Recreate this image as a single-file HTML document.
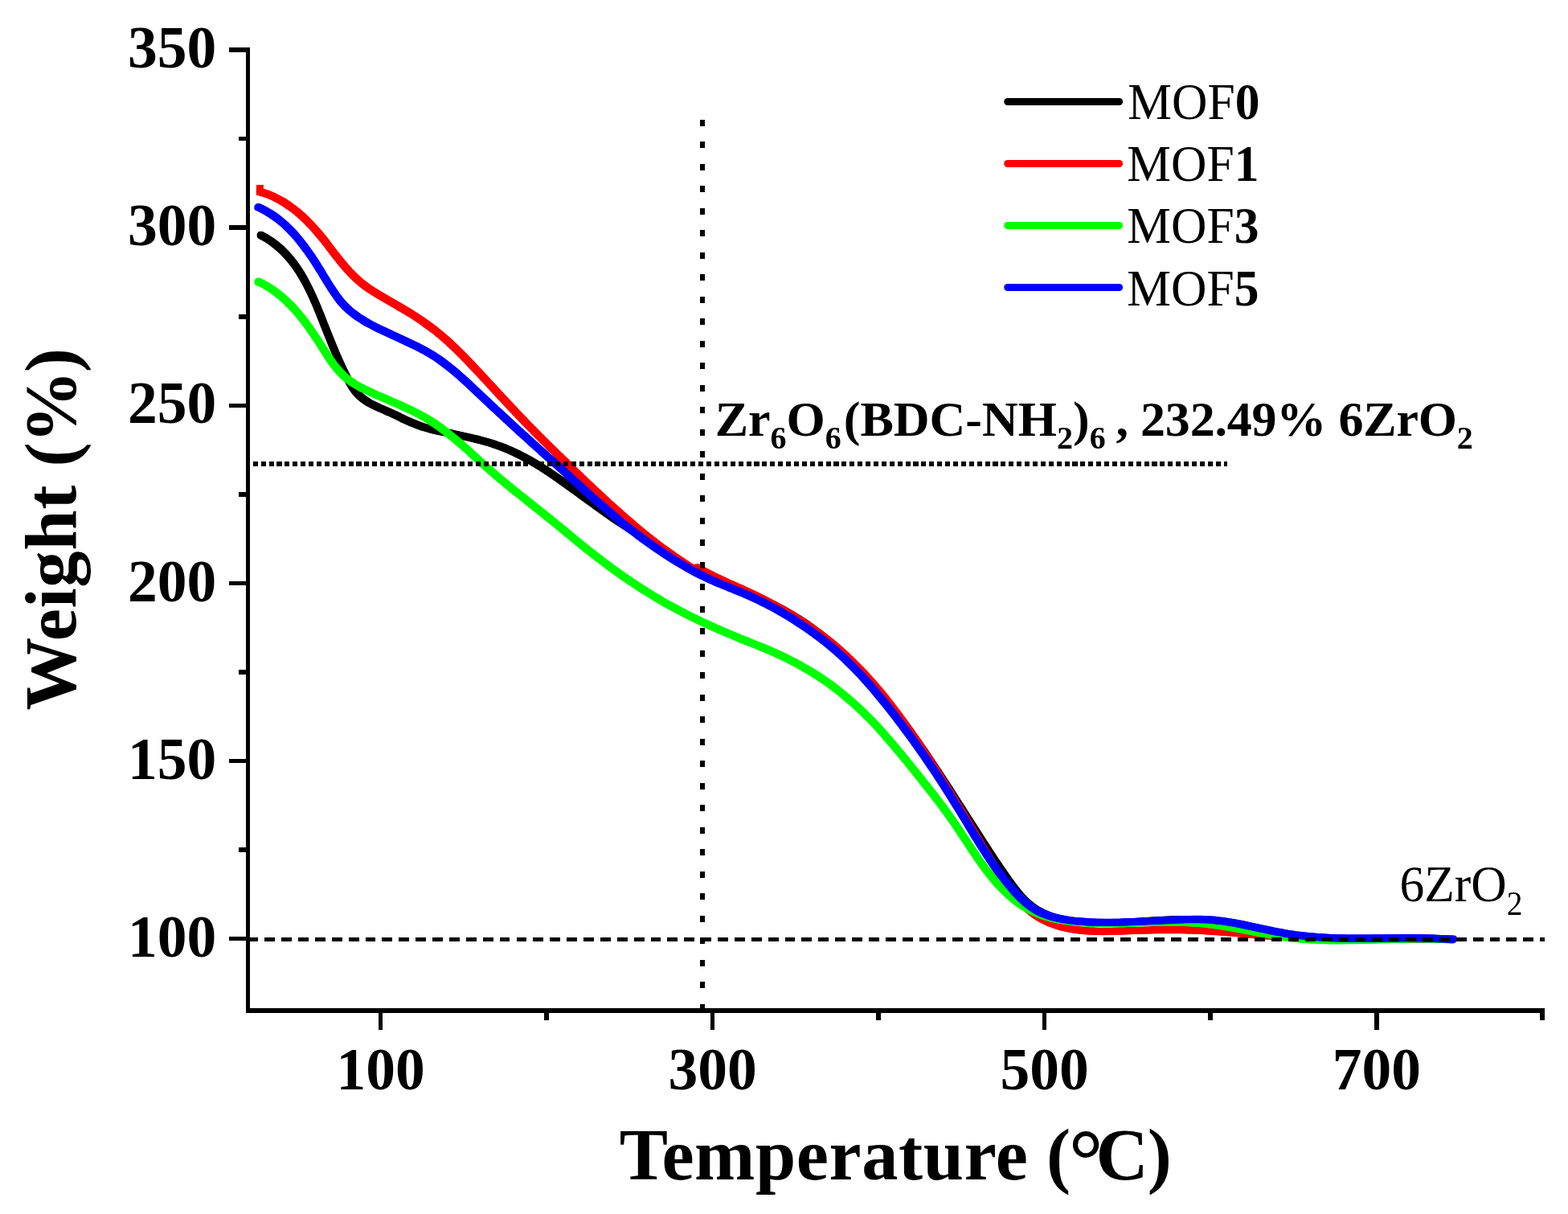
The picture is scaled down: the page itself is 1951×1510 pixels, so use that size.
<!DOCTYPE html>
<html lang="en"><head><meta charset="utf-8"><title>TGA curves</title>
<style>html,body{margin:0;padding:0;background:#fff}body{width:1951px;height:1510px;overflow:hidden}svg{display:block}text{font-family:"Liberation Serif",serif;fill:#000}.b{font-weight:bold}</style></head><body>
<svg width="1951" height="1510" viewBox="0 0 1951 1510">
<rect width="1951" height="1510" fill="#fff"/>
<defs>
<path id="ck" d="M324.3 292.3C325.4 292.9 328.7 294.7 330.7 295.9C332.8 297.2 334.8 298.4 336.8 299.8C338.7 301.1 340.6 302.5 342.5 304.0C344.3 305.4 346.1 306.9 347.8 308.4C349.6 310.0 351.2 311.6 352.9 313.2C354.5 314.8 356.1 316.5 357.6 318.2C359.1 319.9 360.6 321.7 362.1 323.4C363.5 325.2 364.9 327.0 366.3 328.8C367.6 330.7 369.0 332.5 370.2 334.4C371.5 336.3 372.8 338.2 374.0 340.2C375.2 342.2 376.4 344.2 377.5 346.3C378.7 348.3 379.8 350.4 380.9 352.5C382.0 354.5 383.1 356.7 384.1 358.8C385.2 360.9 386.2 363.0 387.2 365.2C388.2 367.3 389.2 369.5 390.2 371.7C391.1 373.9 392.1 376.0 393.0 378.2C394.0 380.4 394.9 382.7 395.8 384.9C396.7 387.1 397.6 389.4 398.5 391.6C399.4 393.9 400.3 396.1 401.2 398.3C402.1 400.6 402.9 402.8 403.8 405.0C404.7 407.2 405.6 409.5 406.5 411.7C407.3 413.9 408.2 416.1 409.1 418.3C410.0 420.5 410.9 422.7 411.8 424.9C412.7 427.2 413.6 429.4 414.5 431.6C415.4 433.7 416.3 435.9 417.2 438.1C418.2 440.3 419.1 442.5 420.1 444.7C421.0 446.9 422.0 449.1 423.0 451.2C424.0 453.4 425.0 455.6 426.0 457.8C427.0 459.9 428.0 462.1 429.1 464.3C430.2 466.4 431.2 468.6 432.4 470.8C433.5 472.9 434.6 475.0 435.8 477.1C437.0 479.2 438.3 481.3 439.6 483.2C440.9 485.2 442.3 487.0 443.8 488.7C445.3 490.4 446.9 492.0 448.6 493.5C450.3 495.0 452.1 496.3 454.0 497.6C455.9 498.9 457.8 500.2 459.8 501.3C461.8 502.4 463.9 503.4 466.0 504.5C468.1 505.5 470.2 506.4 472.3 507.4C474.5 508.4 476.6 509.3 478.8 510.3C480.9 511.2 483.1 512.1 485.3 513.1C487.4 514.0 489.6 515.0 491.7 516.0C493.8 517.0 495.9 518.0 497.9 519.1C500.0 520.1 502.0 521.2 504.1 522.1C506.2 523.1 508.2 524.1 510.3 524.9C512.4 525.8 514.5 526.6 516.6 527.4C518.7 528.2 520.8 529.0 523.0 529.8C525.1 530.6 527.3 531.3 529.5 532.0C531.7 532.7 533.9 533.3 536.1 533.9C538.3 534.5 540.6 535.0 542.9 535.6C545.1 536.1 547.4 536.6 549.8 537.0C552.1 537.5 554.4 537.9 556.7 538.3C559.1 538.8 561.4 539.1 563.8 539.6C566.1 540.0 568.5 540.6 570.8 541.2C573.2 541.7 575.6 542.3 577.9 542.8C580.3 543.4 582.6 543.9 585.0 544.4C587.3 544.9 589.6 545.4 592.0 546.0C594.3 546.6 596.6 547.2 598.9 547.8C601.2 548.4 603.4 549.0 605.7 549.7C607.9 550.3 610.2 551.0 612.4 551.7C614.6 552.5 616.8 553.2 619.0 554.0C621.2 554.8 623.3 555.6 625.5 556.4C627.7 557.2 629.8 558.1 631.9 559.0C634.0 559.8 636.1 560.7 638.2 561.7C640.3 562.6 642.4 563.6 644.5 564.7C646.5 565.7 648.6 566.7 650.6 567.8C652.7 568.9 654.7 570.0 656.7 571.1C658.8 572.2 660.8 573.4 662.8 574.5C664.8 575.7 666.8 576.9 668.8 578.1C670.8 579.3 672.7 580.6 674.7 581.8C676.7 583.0 678.6 584.3 680.6 585.6C682.5 586.9 684.5 588.2 686.4 589.5C688.4 590.8 690.3 592.1 692.2 593.5C694.2 594.8 696.1 596.2 698.0 597.5C699.9 598.9 701.9 600.3 703.8 601.6C705.7 603.0 707.6 604.4 709.5 605.8C711.4 607.1 713.3 608.5 715.3 609.9C717.2 611.3 719.1 612.7 721.0 614.1C722.9 615.5 724.8 616.8 726.7 618.2C728.6 619.6 730.5 621.0 732.5 622.4C734.4 623.7 736.3 625.1 738.2 626.4C740.1 627.8 742.0 629.3 744.0 630.7C745.9 632.1 747.8 633.5 749.8 634.9C751.7 636.4 753.6 637.8 755.6 639.1C757.5 640.5 759.5 641.9 761.5 643.2C763.4 644.6 765.4 645.9 767.4 647.2C769.3 648.6 771.3 649.8 773.3 651.1C775.3 652.4 777.3 653.7 779.3 655.0C781.3 656.2 783.3 657.5 785.3 658.7C787.3 660.0 789.3 661.3 791.3 662.5C793.3 663.8 795.3 665.1 797.3 666.4C799.3 667.6 801.2 668.9 803.2 670.1C805.2 671.4 807.2 672.7 809.1 674.0C811.1 675.2 813.1 676.6 815.0 677.9C816.9 679.3 818.9 680.6 820.8 682.0C822.7 683.4 824.6 684.8 826.6 686.2C828.5 687.6 830.4 689.1 832.3 690.4C834.2 691.8 836.2 693.1 838.1 694.4C840.1 695.8 842.0 697.1 844.0 698.4C845.9 699.6 847.9 700.9 849.9 702.1C851.9 703.4 853.9 704.5 856.0 705.8C858.0 707.0 860.0 708.2 862.1 709.4C864.1 710.6 866.2 711.7 868.3 712.7C870.4 713.8 872.5 714.8 874.7 715.8C876.8 716.7 878.9 717.6 881.1 718.5C883.3 719.4 885.4 720.3 887.6 721.1C889.8 722.0 892.0 722.8 894.2 723.7C896.4 724.5 898.6 725.3 900.8 726.1C903.0 727.0 905.2 727.8 907.4 728.7C909.6 729.5 911.8 730.4 914.0 731.2C916.2 732.1 918.4 732.9 920.6 733.8C922.8 734.7 925.0 735.6 927.2 736.6C929.4 737.5 931.6 738.5 933.7 739.5C935.9 740.4 938.1 741.4 940.2 742.3C942.4 743.2 944.6 744.1 946.7 745.0C948.8 746.0 951.0 746.9 953.1 747.9C955.2 748.8 957.4 749.8 959.5 750.8C961.6 751.9 963.7 752.9 965.7 754.0C967.8 755.1 969.9 756.2 972.0 757.3C974.0 758.4 976.1 759.5 978.1 760.7C980.1 761.8 982.1 763.0 984.1 764.2C986.2 765.4 988.1 766.6 990.1 767.8C992.1 769.0 994.0 770.3 996.0 771.5C997.9 772.8 999.9 774.0 1001.8 775.3C1003.7 776.7 1005.6 778.0 1007.5 779.4C1009.4 780.7 1011.3 782.1 1013.1 783.5C1015.0 784.9 1016.9 786.3 1018.7 787.7C1020.5 789.2 1022.4 790.6 1024.2 792.1C1026.0 793.5 1027.8 795.0 1029.6 796.5C1031.4 797.9 1033.1 799.4 1034.9 800.9C1036.7 802.5 1038.4 804.0 1040.2 805.5C1041.9 807.1 1043.6 808.6 1045.3 810.2C1047.1 811.7 1048.8 813.3 1050.5 814.9C1052.2 816.5 1053.8 818.1 1055.5 819.7C1057.2 821.3 1058.8 822.9 1060.5 824.6C1062.1 826.2 1063.8 827.8 1065.4 829.5C1067.0 831.1 1068.7 832.8 1070.3 834.5C1071.9 836.2 1073.5 837.9 1075.1 839.6C1076.7 841.3 1078.2 843.0 1079.8 844.7C1081.4 846.4 1082.9 848.2 1084.5 849.9C1086.0 851.6 1087.6 853.4 1089.1 855.2C1090.6 856.9 1092.2 858.7 1093.7 860.5C1095.2 862.2 1096.7 864.0 1098.2 865.8C1099.7 867.6 1101.2 869.4 1102.7 871.2C1104.2 873.0 1105.6 874.9 1107.1 876.7C1108.6 878.5 1110.0 880.4 1111.5 882.2C1112.9 884.0 1114.4 885.9 1115.8 887.8C1117.2 889.6 1118.7 891.5 1120.1 893.4C1121.5 895.2 1122.9 897.1 1124.3 899.0C1125.7 900.9 1127.1 902.8 1128.5 904.7C1129.9 906.5 1131.3 908.5 1132.7 910.4C1134.1 912.3 1135.5 914.2 1136.8 916.1C1138.2 918.0 1139.6 919.9 1140.9 921.9C1142.3 923.8 1143.6 925.7 1145.0 927.7C1146.3 929.6 1147.7 931.5 1149.0 933.5C1150.4 935.4 1151.7 937.4 1153.0 939.3C1154.4 941.3 1155.7 943.2 1157.0 945.2C1158.3 947.1 1159.6 949.1 1160.9 951.1C1162.2 953.0 1163.6 955.0 1164.9 957.0C1166.2 958.9 1167.5 960.9 1168.8 962.9C1170.0 964.8 1171.3 966.8 1172.6 968.8C1173.9 970.8 1175.2 972.7 1176.5 974.7C1177.8 976.7 1179.0 978.7 1180.3 980.6C1181.6 982.6 1182.9 984.6 1184.1 986.6C1185.4 988.5 1186.7 990.5 1187.9 992.5C1189.2 994.5 1190.5 996.4 1191.7 998.4C1193.0 1000.4 1194.3 1002.4 1195.5 1004.3C1196.8 1006.3 1198.0 1008.3 1199.3 1010.3C1200.5 1012.2 1201.8 1014.2 1203.0 1016.2C1204.3 1018.1 1205.6 1020.1 1206.8 1022.1C1208.1 1024.0 1209.3 1026.0 1210.6 1027.9C1211.8 1029.9 1213.1 1031.9 1214.3 1033.8C1215.6 1035.8 1216.8 1037.7 1218.1 1039.7C1219.3 1041.6 1220.5 1043.6 1221.8 1045.5C1223.0 1047.4 1224.3 1049.4 1225.6 1051.3C1226.8 1053.3 1228.1 1055.2 1229.3 1057.1C1230.6 1059.1 1231.8 1061.0 1233.1 1062.9C1234.4 1064.8 1235.6 1066.8 1236.9 1068.7C1238.2 1070.6 1239.5 1072.5 1240.8 1074.5C1242.1 1076.4 1243.4 1078.3 1244.7 1080.2C1246.0 1082.1 1247.3 1084.1 1248.7 1086.0C1250.0 1087.9 1251.4 1089.9 1252.7 1091.8C1254.1 1093.8 1255.5 1095.7 1256.9 1097.6C1258.2 1099.6 1259.7 1101.5 1261.1 1103.4C1262.5 1105.3 1264.0 1107.2 1265.5 1109.1C1267.0 1110.9 1268.5 1112.7 1270.1 1114.5C1271.7 1116.3 1273.3 1118.0 1274.9 1119.7C1276.6 1121.3 1278.3 1122.9 1280.1 1124.4C1281.9 1125.9 1283.7 1127.4 1285.6 1128.7C1287.5 1130.1 1289.5 1131.3 1291.5 1132.5C1293.5 1133.6 1295.6 1134.7 1297.7 1135.7C1299.8 1136.7 1302.0 1137.7 1304.2 1138.5C1306.3 1139.4 1308.6 1140.1 1310.8 1140.9C1313.0 1141.6 1315.3 1142.2 1317.6 1142.8C1319.9 1143.4 1322.2 1143.9 1324.5 1144.3C1326.8 1144.8 1329.1 1145.2 1331.4 1145.5C1333.7 1145.9 1336.0 1146.2 1338.4 1146.4C1340.7 1146.7 1343.0 1146.9 1345.4 1147.1C1347.7 1147.3 1350.1 1147.5 1352.4 1147.6C1354.7 1147.7 1357.1 1147.8 1359.4 1147.9C1361.8 1148.0 1364.1 1148.0 1366.5 1148.1C1368.8 1148.1 1371.2 1148.1 1373.5 1148.1C1375.9 1148.1 1378.2 1148.1 1380.6 1148.0C1382.9 1148.0 1385.3 1147.9 1387.6 1147.8C1390.0 1147.7 1392.4 1147.6 1394.7 1147.5C1397.1 1147.4 1399.4 1147.3 1401.8 1147.2C1404.1 1147.1 1406.5 1146.9 1408.9 1146.8C1411.2 1146.6 1413.6 1146.5 1415.9 1146.3C1418.3 1146.2 1420.7 1146.0 1423.0 1145.9C1425.4 1145.7 1427.7 1145.6 1430.1 1145.4C1432.4 1145.3 1434.8 1145.1 1437.2 1145.0C1439.5 1144.9 1441.9 1144.7 1444.2 1144.6C1446.6 1144.5 1448.9 1144.3 1451.3 1144.2C1453.6 1144.1 1456.0 1144.0 1458.3 1143.9C1460.7 1143.9 1463.0 1143.8 1465.4 1143.7C1467.7 1143.7 1470.1 1143.6 1472.4 1143.6C1474.8 1143.6 1477.1 1143.6 1479.4 1143.6C1481.8 1143.7 1484.1 1143.7 1486.4 1143.8C1488.8 1143.8 1491.1 1143.9 1493.4 1144.1C1495.8 1144.2 1498.1 1144.3 1500.4 1144.5C1502.7 1144.7 1505.1 1144.9 1507.4 1145.2C1509.7 1145.4 1512.0 1145.7 1514.3 1146.0C1516.6 1146.3 1518.9 1146.6 1521.2 1146.9C1523.6 1147.3 1525.9 1147.7 1528.2 1148.0C1530.5 1148.4 1532.8 1148.8 1535.1 1149.3C1537.4 1149.7 1539.7 1150.1 1542.0 1150.6C1544.3 1151.0 1546.6 1151.5 1548.9 1151.9C1551.2 1152.4 1553.5 1152.8 1555.8 1153.3C1558.1 1153.8 1560.4 1154.3 1562.7 1154.7C1565.0 1155.2 1567.3 1155.7 1569.6 1156.2C1571.9 1156.6 1574.2 1157.1 1576.5 1157.6C1578.8 1158.0 1581.1 1158.5 1583.4 1158.9C1585.7 1159.4 1588.0 1159.8 1590.3 1160.2C1592.6 1160.6 1594.9 1161.0 1597.2 1161.4C1599.5 1161.8 1601.8 1162.1 1604.1 1162.5C1606.5 1162.8 1608.8 1163.1 1611.1 1163.4C1613.4 1163.7 1615.7 1164.0 1618.0 1164.3C1620.4 1164.5 1622.7 1164.8 1625.0 1165.0C1627.4 1165.2 1629.7 1165.4 1632.0 1165.6C1634.3 1165.8 1636.7 1166.0 1639.0 1166.2C1641.3 1166.3 1643.7 1166.5 1646.0 1166.6C1648.3 1166.7 1650.7 1166.9 1653.0 1167.0C1655.4 1167.1 1657.7 1167.2 1660.0 1167.2C1662.4 1167.3 1664.7 1167.4 1667.1 1167.4C1669.4 1167.5 1671.8 1167.6 1674.1 1167.6C1676.5 1167.6 1678.8 1167.7 1681.2 1167.7C1683.5 1167.7 1685.9 1167.7 1688.2 1167.7C1690.6 1167.8 1692.9 1167.8 1695.3 1167.8C1697.6 1167.8 1700.0 1167.7 1702.3 1167.7C1704.7 1167.7 1707.0 1167.7 1709.4 1167.7C1711.7 1167.7 1714.1 1167.6 1716.4 1167.6C1718.8 1167.6 1721.1 1167.6 1723.5 1167.5C1725.8 1167.5 1728.2 1167.5 1730.5 1167.5C1732.9 1167.4 1735.2 1167.4 1737.6 1167.4C1740.0 1167.4 1742.3 1167.3 1744.7 1167.3C1747.0 1167.3 1749.4 1167.3 1751.7 1167.3C1754.1 1167.3 1756.4 1167.3 1758.8 1167.3C1761.1 1167.3 1763.5 1167.3 1765.8 1167.3C1768.2 1167.3 1770.5 1167.3 1772.9 1167.3C1775.2 1167.4 1777.5 1167.4 1779.9 1167.4C1782.2 1167.5 1784.6 1167.5 1786.9 1167.6C1789.3 1167.6 1791.6 1167.7 1793.9 1167.8C1796.3 1167.9 1798.6 1168.0 1801.0 1168.1C1803.3 1168.2 1806.8 1168.4 1808.0 1168.4"/>
<path id="cr" d="M323.4 238.6C324.5 239.0 328.1 239.9 330.3 240.7C332.6 241.5 334.8 242.3 337.0 243.2C339.2 244.2 341.3 245.1 343.4 246.2C345.5 247.2 347.6 248.3 349.6 249.5C351.6 250.6 353.6 251.8 355.5 253.1C357.4 254.3 359.4 255.7 361.2 257.0C363.1 258.4 364.9 259.7 366.7 261.1C368.6 262.5 370.3 264.0 372.1 265.5C373.8 267.0 375.5 268.5 377.2 270.1C378.9 271.7 380.6 273.3 382.2 274.9C383.9 276.5 385.5 278.2 387.1 279.9C388.7 281.6 390.2 283.4 391.8 285.1C393.4 286.9 394.9 288.6 396.4 290.4C397.9 292.2 399.4 294.0 400.9 295.8C402.4 297.6 403.9 299.5 405.3 301.3C406.8 303.2 408.2 305.2 409.7 307.1C411.1 309.0 412.6 310.9 414.1 312.8C415.5 314.7 417.0 316.6 418.4 318.4C419.9 320.3 421.4 322.2 422.9 324.0C424.4 325.9 425.9 327.7 427.4 329.5C428.9 331.3 430.5 333.1 432.0 334.9C433.6 336.6 435.2 338.4 436.8 340.1C438.5 341.7 440.1 343.4 441.8 345.0C443.6 346.6 445.3 348.2 447.1 349.7C448.9 351.3 450.7 352.8 452.6 354.2C454.4 355.6 456.3 357.0 458.2 358.4C460.2 359.7 462.1 360.9 464.1 362.2C466.0 363.4 468.0 364.7 470.0 365.9C472.0 367.1 474.0 368.3 476.0 369.4C478.0 370.6 480.0 371.7 482.0 372.9C484.0 374.0 486.1 375.2 488.1 376.3C490.1 377.5 492.1 378.7 494.1 379.8C496.0 381.0 498.0 382.2 500.0 383.3C502.0 384.5 504.0 385.7 506.0 386.9C508.0 388.1 509.9 389.3 511.9 390.5C513.9 391.7 515.8 392.9 517.8 394.2C519.7 395.4 521.6 396.7 523.6 398.0C525.5 399.3 527.4 400.7 529.3 402.1C531.2 403.4 533.1 404.8 535.0 406.2C536.9 407.6 538.8 409.0 540.6 410.4C542.5 411.9 544.3 413.4 546.1 414.9C548.0 416.4 549.8 417.9 551.6 419.5C553.4 421.0 555.1 422.6 556.9 424.1C558.6 425.7 560.4 427.3 562.1 428.9C563.8 430.5 565.5 432.2 567.2 433.8C568.9 435.4 570.6 437.1 572.3 438.7C574.0 440.4 575.6 442.1 577.3 443.8C578.9 445.4 580.6 447.2 582.2 448.9C583.8 450.6 585.5 452.3 587.1 454.0C588.7 455.7 590.3 457.4 591.9 459.1C593.5 460.8 595.1 462.5 596.7 464.2C598.3 465.9 599.9 467.6 601.5 469.4C603.1 471.1 604.6 472.8 606.2 474.5C607.8 476.3 609.4 478.0 611.0 479.7C612.6 481.5 614.2 483.2 615.8 484.9C617.4 486.6 619.0 488.3 620.6 490.1C622.2 491.8 623.8 493.5 625.4 495.2C627.0 496.9 628.6 498.6 630.2 500.3C631.8 502.0 633.4 503.8 635.0 505.5C636.7 507.3 638.3 509.0 639.9 510.7C641.5 512.5 643.1 514.2 644.8 515.9C646.4 517.6 648.0 519.3 649.7 521.0C651.3 522.7 652.9 524.4 654.6 526.1C656.2 527.8 657.9 529.5 659.5 531.1C661.2 532.8 662.8 534.5 664.5 536.2C666.1 537.8 667.8 539.5 669.4 541.2C671.1 542.8 672.8 544.5 674.4 546.2C676.1 547.8 677.7 549.5 679.4 551.1C681.1 552.8 682.8 554.4 684.4 556.1C686.1 557.7 687.8 559.4 689.5 561.0C691.2 562.6 692.8 564.3 694.5 565.9C696.2 567.5 697.9 569.2 699.6 570.8C701.3 572.4 703.0 574.1 704.7 575.8C706.4 577.4 708.1 579.1 709.8 580.8C711.5 582.5 713.2 584.2 714.9 585.9C716.6 587.5 718.3 589.2 720.1 590.8C721.8 592.5 723.5 594.1 725.2 595.7C726.9 597.4 728.7 599.0 730.4 600.7C732.1 602.3 733.8 603.9 735.6 605.6C737.3 607.2 739.1 608.8 740.8 610.5C742.5 612.1 744.3 613.7 746.0 615.3C747.8 616.9 749.5 618.5 751.3 620.2C753.0 621.8 754.8 623.4 756.5 625.0C758.3 626.6 760.1 628.2 761.8 629.8C763.6 631.4 765.4 633.0 767.1 634.6C768.9 636.2 770.7 637.8 772.5 639.3C774.2 640.9 776.0 642.4 777.8 644.0C779.6 645.5 781.4 647.1 783.2 648.6C785.0 650.2 786.8 651.7 788.6 653.3C790.4 654.8 792.2 656.3 794.0 657.9C795.8 659.4 797.6 660.9 799.4 662.4C801.2 663.9 803.1 665.4 804.9 666.8C806.7 668.3 808.6 669.7 810.4 671.2C812.2 672.6 814.1 674.0 815.9 675.4C817.8 676.8 819.7 678.2 821.5 679.6C823.4 681.0 825.3 682.4 827.2 683.7C829.1 685.1 831.0 686.5 832.9 687.8C834.8 689.2 836.7 690.5 838.7 691.9C840.6 693.2 842.5 694.5 844.5 695.8C846.4 697.1 848.4 698.5 850.4 699.8C852.4 701.2 854.3 702.5 856.3 703.8C858.3 705.1 860.6 706.5 862.4 707.6C864.2 708.6 866.2 709.8 867.0 710.2M867.0 705.9C867.2 706.1 867.2 706.1 868.5 706.7C869.8 707.4 872.6 708.8 874.7 709.9C876.8 711.0 878.9 712.1 881.0 713.2C883.1 714.3 885.2 715.3 887.3 716.4C889.4 717.4 891.5 718.4 893.7 719.4C895.8 720.5 897.9 721.5 900.1 722.4C902.2 723.4 904.4 724.4 906.5 725.4C908.6 726.4 910.8 727.3 912.9 728.3C915.1 729.2 917.2 730.2 919.4 731.1C921.5 732.1 923.7 733.1 925.9 734.0C928.0 735.0 930.2 736.0 932.3 737.0C934.5 738.0 936.6 739.0 938.7 740.0C940.9 741.0 943.0 742.1 945.2 743.2C947.3 744.2 949.5 745.3 951.6 746.4C953.7 747.6 955.9 748.8 958.0 749.9C960.1 751.0 962.2 752.1 964.3 753.2C966.4 754.4 968.5 755.5 970.6 756.6C972.7 757.8 974.8 758.9 976.8 760.1C978.9 761.3 981.0 762.5 983.0 763.7C985.0 764.9 987.0 766.2 989.0 767.4C991.0 768.7 993.0 769.9 995.0 771.2C997.0 772.5 998.9 773.8 1000.9 775.1C1002.8 776.4 1004.7 777.6 1006.6 778.9C1008.6 780.2 1010.4 781.5 1012.3 782.9C1014.2 784.2 1016.1 785.5 1017.9 786.9C1019.8 788.2 1021.6 789.6 1023.5 791.0C1025.3 792.4 1027.1 793.8 1028.9 795.2C1030.7 796.6 1032.5 798.0 1034.3 799.4C1036.0 800.9 1037.8 802.3 1039.5 803.8C1041.3 805.3 1043.0 806.8 1044.8 808.4C1046.5 809.9 1048.2 811.5 1049.9 813.0C1051.6 814.6 1053.3 816.1 1054.9 817.7C1056.6 819.3 1058.3 820.9 1059.9 822.5C1061.6 824.1 1063.2 825.7 1064.9 827.4C1066.5 829.0 1068.1 830.6 1069.7 832.3C1071.3 833.9 1072.9 835.6 1074.5 837.3C1076.1 838.9 1077.7 840.7 1079.2 842.4C1080.8 844.1 1082.3 845.8 1083.9 847.6C1085.4 849.3 1087.0 851.1 1088.5 852.8C1090.0 854.6 1091.5 856.4 1093.0 858.2C1094.5 859.9 1096.0 861.7 1097.5 863.5C1099.0 865.3 1100.5 867.1 1102.0 868.9C1103.4 870.8 1104.9 872.6 1106.3 874.5C1107.8 876.3 1109.2 878.2 1110.7 880.1C1112.1 882.0 1113.5 883.8 1114.9 885.7C1116.4 887.6 1117.8 889.5 1119.2 891.4C1120.6 893.3 1122.0 895.2 1123.4 897.2C1124.8 899.1 1126.1 901.0 1127.5 902.9C1128.9 904.8 1130.3 906.7 1131.6 908.7C1133.0 910.6 1134.3 912.5 1135.7 914.5C1137.0 916.4 1138.4 918.3 1139.7 920.3C1141.0 922.2 1142.4 924.2 1143.7 926.1C1145.0 928.1 1146.3 930.0 1147.7 932.0C1149.0 934.0 1150.3 936.0 1151.6 937.9C1152.9 939.9 1154.2 941.9 1155.5 943.9C1156.8 945.8 1158.0 947.8 1159.3 949.8C1160.6 951.8 1161.9 953.8 1163.2 955.8C1164.4 957.8 1165.7 959.8 1167.0 961.8C1168.2 963.8 1169.5 965.8 1170.8 967.8C1172.0 969.9 1173.3 971.9 1174.5 973.9C1175.8 975.9 1177.0 977.9 1178.3 979.9C1179.5 982.0 1180.8 984.0 1182.0 986.0C1183.2 988.0 1184.5 990.0 1185.7 992.0C1186.9 994.0 1188.2 996.0 1189.4 998.1C1190.6 1000.1 1191.9 1002.1 1193.1 1004.1C1194.3 1006.1 1195.5 1008.2 1196.8 1010.2C1198.0 1012.2 1199.2 1014.2 1200.4 1016.2C1201.6 1018.3 1202.9 1020.3 1204.1 1022.3C1205.3 1024.3 1206.5 1026.4 1207.7 1028.4C1208.9 1030.4 1210.2 1032.4 1211.4 1034.4C1212.6 1036.4 1213.8 1038.5 1215.0 1040.5C1216.2 1042.5 1217.4 1044.5 1218.7 1046.5C1219.9 1048.5 1221.1 1050.6 1222.3 1052.6C1223.5 1054.6 1224.7 1056.6 1225.9 1058.6C1227.2 1060.6 1228.4 1062.6 1229.6 1064.6C1230.8 1066.6 1232.0 1068.6 1233.3 1070.6C1234.5 1072.6 1235.7 1074.6 1236.9 1076.6C1238.2 1078.6 1239.4 1080.5 1240.6 1082.5C1241.9 1084.5 1243.1 1086.5 1244.4 1088.4C1245.6 1090.4 1246.9 1092.3 1248.2 1094.3C1249.5 1096.2 1250.8 1098.1 1252.2 1100.0C1253.5 1101.9 1254.9 1103.8 1256.3 1105.6C1257.6 1107.5 1259.1 1109.3 1260.5 1111.2C1262.0 1113.0 1263.4 1114.8 1265.0 1116.5C1266.5 1118.3 1268.0 1120.0 1269.6 1121.7C1271.2 1123.4 1272.9 1125.1 1274.6 1126.7C1276.3 1128.4 1278.0 1129.9 1279.8 1131.5C1281.6 1133.0 1283.4 1134.5 1285.2 1135.8C1287.1 1137.2 1289.0 1138.6 1291.0 1139.8C1293.0 1141.0 1295.0 1142.2 1297.0 1143.3C1299.1 1144.4 1301.2 1145.4 1303.3 1146.4C1305.4 1147.3 1307.6 1148.2 1309.7 1149.0C1311.9 1149.9 1314.1 1150.6 1316.4 1151.3C1318.6 1152.0 1320.9 1152.7 1323.1 1153.2C1325.4 1153.8 1327.7 1154.3 1330.0 1154.8C1332.3 1155.3 1334.6 1155.7 1336.9 1156.1C1339.3 1156.4 1341.6 1156.7 1343.9 1157.0C1346.3 1157.3 1348.6 1157.5 1350.9 1157.7C1353.3 1157.9 1355.6 1158.0 1358.0 1158.1C1360.3 1158.2 1362.7 1158.3 1365.0 1158.4C1367.4 1158.4 1369.7 1158.5 1372.1 1158.5C1374.4 1158.5 1376.8 1158.4 1379.2 1158.4C1381.5 1158.4 1383.9 1158.3 1386.2 1158.2C1388.6 1158.2 1391.0 1158.1 1393.3 1158.0C1395.7 1157.9 1398.0 1157.8 1400.4 1157.8C1402.7 1157.7 1405.1 1157.6 1407.5 1157.5C1409.8 1157.4 1412.2 1157.4 1414.5 1157.3C1416.9 1157.2 1419.2 1157.1 1421.6 1157.1C1423.9 1157.0 1426.3 1156.9 1428.6 1156.9C1430.9 1156.8 1433.3 1156.8 1435.6 1156.7C1438.0 1156.7 1440.3 1156.6 1442.7 1156.6C1445.0 1156.6 1447.3 1156.5 1449.7 1156.5C1452.0 1156.5 1454.4 1156.5 1456.7 1156.5C1459.0 1156.5 1461.4 1156.5 1463.7 1156.5C1466.1 1156.5 1468.4 1156.6 1470.7 1156.6C1473.1 1156.7 1475.4 1156.7 1477.8 1156.8C1480.1 1156.9 1482.4 1156.9 1484.8 1157.0C1487.1 1157.1 1489.4 1157.2 1491.8 1157.3C1494.1 1157.4 1496.5 1157.5 1498.8 1157.6C1501.1 1157.8 1503.5 1157.9 1505.8 1158.1C1508.1 1158.2 1510.5 1158.4 1512.8 1158.5C1515.2 1158.7 1517.5 1158.9 1519.8 1159.0C1522.2 1159.2 1524.5 1159.4 1526.8 1159.6C1529.2 1159.8 1531.5 1159.9 1533.9 1160.1C1536.2 1160.3 1538.5 1160.5 1540.9 1160.7C1543.2 1161.0 1545.5 1161.2 1547.9 1161.4C1550.2 1161.6 1552.6 1161.8 1554.9 1162.0C1557.2 1162.2 1559.6 1162.5 1561.9 1162.7C1564.3 1162.9 1566.6 1163.1 1568.9 1163.3C1571.3 1163.5 1573.6 1163.7 1575.9 1163.8C1578.3 1164.0 1580.6 1164.2 1583.0 1164.4C1585.3 1164.5 1587.6 1164.7 1590.0 1164.9C1592.3 1165.0 1594.7 1165.2 1597.0 1165.3C1599.3 1165.4 1601.7 1165.6 1604.0 1165.7C1606.4 1165.8 1608.7 1166.0 1611.0 1166.1C1613.4 1166.2 1615.7 1166.3 1618.1 1166.4C1620.4 1166.5 1622.8 1166.6 1625.1 1166.7C1627.4 1166.8 1629.8 1166.9 1632.1 1167.0C1634.5 1167.1 1636.8 1167.1 1639.2 1167.2C1641.5 1167.3 1643.8 1167.4 1646.2 1167.4C1648.5 1167.5 1650.9 1167.5 1653.2 1167.6C1655.6 1167.7 1657.9 1167.7 1660.2 1167.8C1662.6 1167.8 1664.9 1167.8 1667.3 1167.9C1669.6 1167.9 1672.0 1168.0 1674.3 1168.0C1676.6 1168.0 1679.0 1168.1 1681.3 1168.1C1683.7 1168.1 1686.0 1168.1 1688.4 1168.2C1690.7 1168.2 1693.1 1168.2 1695.4 1168.2C1697.7 1168.2 1700.1 1168.2 1702.4 1168.2C1704.8 1168.3 1707.1 1168.3 1709.5 1168.3C1711.8 1168.3 1714.2 1168.3 1716.5 1168.3C1718.8 1168.3 1721.2 1168.3 1723.5 1168.3C1725.9 1168.3 1728.2 1168.3 1730.6 1168.3C1732.9 1168.3 1735.3 1168.3 1737.6 1168.3C1740.0 1168.2 1742.3 1168.2 1744.6 1168.2C1747.0 1168.2 1749.3 1168.2 1751.7 1168.2C1754.0 1168.2 1756.4 1168.2 1758.7 1168.2C1761.1 1168.2 1763.4 1168.2 1765.8 1168.1C1768.1 1168.1 1770.5 1168.1 1772.8 1168.1C1775.2 1168.1 1777.5 1168.1 1779.8 1168.1C1782.2 1168.1 1784.5 1168.1 1786.9 1168.1C1789.2 1168.1 1791.6 1168.1 1793.9 1168.1C1796.3 1168.1 1798.6 1168.1 1801.0 1168.1C1803.3 1168.1 1806.8 1168.1 1808.0 1168.1"/>
<path id="cg" d="M321.1 350.2C322.2 350.7 325.6 352.2 327.7 353.4C329.9 354.5 332.0 355.8 334.0 357.0C336.1 358.3 338.1 359.6 340.0 361.0C342.0 362.3 343.9 363.8 345.7 365.2C347.6 366.7 349.4 368.2 351.2 369.7C352.9 371.2 354.7 372.8 356.4 374.4C358.1 376.0 359.7 377.6 361.3 379.3C363.0 380.9 364.5 382.6 366.1 384.3C367.7 386.0 369.2 387.7 370.7 389.5C372.2 391.3 373.7 393.1 375.1 394.9C376.6 396.7 378.0 398.6 379.4 400.4C380.8 402.3 382.2 404.2 383.6 406.1C384.9 408.0 386.3 409.9 387.6 411.9C389.0 413.8 390.3 415.8 391.6 417.7C392.9 419.7 394.3 421.6 395.6 423.6C396.9 425.6 398.1 427.7 399.4 429.7C400.7 431.7 402.0 433.8 403.3 435.8C404.6 437.9 405.9 439.9 407.2 441.9C408.6 444.0 409.9 446.0 411.2 447.9C412.6 449.9 414.0 451.8 415.4 453.7C416.8 455.6 418.3 457.4 419.8 459.2C421.3 460.9 422.8 462.6 424.5 464.3C426.1 465.9 427.7 467.5 429.4 469.1C431.2 470.6 433.0 472.0 434.8 473.4C436.7 474.7 438.6 476.0 440.6 477.2C442.6 478.5 444.6 479.6 446.6 480.7C448.7 481.8 450.8 482.9 452.9 483.9C455.0 485.0 457.2 485.9 459.3 486.9C461.4 487.9 463.6 488.9 465.8 489.9C467.9 490.8 470.1 491.8 472.3 492.8C474.4 493.7 476.6 494.7 478.8 495.6C480.9 496.6 483.1 497.5 485.3 498.4C487.4 499.4 489.6 500.3 491.8 501.3C493.9 502.2 496.1 503.2 498.2 504.1C500.4 505.1 502.5 506.1 504.6 507.0C506.7 508.0 508.9 509.0 511.0 510.0C513.1 511.0 515.2 512.1 517.2 513.1C519.3 514.2 521.4 515.2 523.4 516.3C525.5 517.4 527.5 518.6 529.5 519.7C531.5 520.9 533.5 522.1 535.5 523.3C537.4 524.5 539.4 525.8 541.3 527.1C543.2 528.4 545.1 529.7 547.0 531.1C548.9 532.4 550.7 533.8 552.6 535.3C554.4 536.7 556.2 538.2 558.1 539.6C559.9 541.0 561.7 542.5 563.5 544.0C565.2 545.4 567.0 546.9 568.8 548.3C570.6 549.8 572.3 551.3 574.1 552.8C575.8 554.3 577.6 555.8 579.3 557.4C581.1 558.9 582.8 560.5 584.5 562.1C586.3 563.7 588.0 565.3 589.8 566.9C591.5 568.5 593.3 570.1 595.0 571.7C596.8 573.3 598.5 574.9 600.3 576.5C602.0 578.0 603.8 579.6 605.6 581.2C607.4 582.8 609.1 584.3 610.9 585.9C612.7 587.4 614.5 589.0 616.3 590.5C618.1 592.0 619.9 593.6 621.7 595.1C623.5 596.6 625.4 598.1 627.2 599.6C629.0 601.1 630.8 602.6 632.7 604.1C634.5 605.6 636.3 607.1 638.1 608.6C640.0 610.1 641.8 611.5 643.7 613.0C645.5 614.5 647.3 616.0 649.2 617.4C651.0 618.9 652.9 620.4 654.7 621.9C656.6 623.3 658.4 624.8 660.3 626.3C662.1 627.7 664.0 629.2 665.8 630.7C667.7 632.1 669.5 633.6 671.3 635.1C673.2 636.5 675.0 638.0 676.9 639.5C678.7 641.0 680.6 642.4 682.4 643.9C684.2 645.4 686.1 646.9 687.9 648.4C689.8 649.9 691.6 651.4 693.4 652.9C695.3 654.3 697.1 655.8 699.0 657.3C700.8 658.8 702.6 660.4 704.5 661.9C706.3 663.5 708.2 665.0 710.0 666.5C711.8 668.1 713.7 669.6 715.5 671.2C717.4 672.7 719.2 674.2 721.1 675.7C722.9 677.2 724.8 678.7 726.6 680.2C728.5 681.6 730.4 683.1 732.2 684.6C734.1 686.0 735.9 687.5 737.8 688.9C739.7 690.4 741.5 691.8 743.4 693.3C745.3 694.7 747.2 696.1 749.1 697.6C751.0 699.0 752.8 700.4 754.7 701.8C756.6 703.3 758.5 704.7 760.4 706.1C762.3 707.5 764.3 708.9 766.2 710.2C768.1 711.6 770.0 713.0 771.9 714.4C773.9 715.7 775.8 717.1 777.8 718.4C779.7 719.8 781.7 721.1 783.6 722.4C785.6 723.7 787.5 725.0 789.5 726.3C791.5 727.6 793.5 728.9 795.5 730.2C797.4 731.5 799.4 732.8 801.4 734.1C803.4 735.3 805.4 736.6 807.5 737.8C809.5 739.1 811.5 740.3 813.5 741.5C815.5 742.8 817.6 744.0 819.6 745.2C821.7 746.4 823.7 747.6 825.7 748.8C827.8 750.0 829.8 751.1 831.9 752.3C834.0 753.4 836.0 754.5 838.1 755.6C840.2 756.7 842.2 757.8 844.3 758.9C846.4 760.0 848.5 761.1 850.6 762.2C852.7 763.2 854.8 764.3 856.8 765.4C858.9 766.4 861.0 767.5 863.1 768.5C865.3 769.6 867.4 770.6 869.5 771.6C871.6 772.6 873.7 773.7 875.8 774.6C877.9 775.6 880.1 776.6 882.2 777.5C884.3 778.5 886.4 779.4 888.6 780.4C890.7 781.3 892.8 782.2 894.9 783.2C897.1 784.1 899.2 785.0 901.4 785.9C903.5 786.9 905.6 787.8 907.8 788.7C909.9 789.6 912.1 790.5 914.2 791.4C916.4 792.3 918.5 793.2 920.6 794.1C922.8 794.9 924.9 795.8 927.1 796.6C929.2 797.5 931.4 798.4 933.5 799.2C935.7 800.1 937.8 800.9 940.0 801.8C942.1 802.6 944.3 803.5 946.4 804.4C948.6 805.3 950.7 806.1 952.8 807.0C955.0 807.9 957.1 808.8 959.2 809.7C961.4 810.6 963.5 811.6 965.6 812.6C967.7 813.5 969.8 814.5 971.9 815.5C974.0 816.5 976.1 817.5 978.2 818.5C980.3 819.6 982.4 820.6 984.5 821.7C986.6 822.7 988.6 823.8 990.7 824.9C992.8 826.0 994.8 827.2 996.8 828.3C998.9 829.4 1000.9 830.6 1002.9 831.8C1005.0 833.0 1007.0 834.2 1009.0 835.4C1011.0 836.6 1013.0 837.8 1014.9 839.1C1016.9 840.3 1018.9 841.6 1020.8 842.9C1022.8 844.2 1024.7 845.5 1026.7 846.8C1028.6 848.1 1030.5 849.5 1032.4 850.9C1034.3 852.2 1036.2 853.6 1038.1 855.1C1039.9 856.5 1041.8 857.9 1043.6 859.4C1045.5 860.8 1047.3 862.3 1049.1 863.8C1050.9 865.3 1052.7 866.8 1054.5 868.3C1056.3 869.8 1058.0 871.3 1059.8 872.9C1061.6 874.4 1063.3 876.0 1065.0 877.6C1066.7 879.1 1068.5 880.7 1070.2 882.3C1071.9 883.9 1073.6 885.5 1075.2 887.2C1076.9 888.8 1078.6 890.4 1080.2 892.1C1081.9 893.7 1083.5 895.4 1085.2 897.1C1086.8 898.7 1088.4 900.4 1090.1 902.2C1091.7 903.9 1093.3 905.7 1094.9 907.5C1096.5 909.2 1098.1 911.0 1099.6 912.8C1101.2 914.6 1102.8 916.4 1104.3 918.3C1105.9 920.1 1107.5 921.9 1109.0 923.7C1110.6 925.5 1112.1 927.4 1113.6 929.2C1115.2 931.0 1116.7 932.9 1118.2 934.7C1119.8 936.5 1121.3 938.3 1122.8 940.1C1124.3 942.0 1125.8 943.8 1127.3 945.6C1128.8 947.5 1130.3 949.3 1131.8 951.1C1133.3 953.0 1134.8 954.8 1136.3 956.7C1137.8 958.5 1139.3 960.4 1140.7 962.2C1142.2 964.1 1143.7 965.9 1145.2 967.8C1146.7 969.6 1148.1 971.5 1149.6 973.4C1151.1 975.2 1152.5 977.1 1154.0 979.0C1155.5 980.8 1156.9 982.6 1158.4 984.5C1159.8 986.3 1161.3 988.2 1162.7 990.0C1164.1 991.9 1165.5 993.7 1167.0 995.6C1168.4 997.4 1169.8 999.3 1171.2 1001.2C1172.6 1003.0 1174.0 1004.9 1175.4 1006.8C1176.8 1008.7 1178.1 1010.5 1179.5 1012.4C1180.8 1014.3 1182.2 1016.2 1183.5 1018.1C1184.9 1020.0 1186.2 1021.9 1187.5 1023.8C1188.8 1025.8 1190.1 1027.7 1191.4 1029.6C1192.7 1031.5 1194.0 1033.5 1195.3 1035.4C1196.5 1037.3 1197.8 1039.3 1199.1 1041.2C1200.4 1043.1 1201.6 1045.1 1202.9 1047.0C1204.2 1049.0 1205.4 1050.9 1206.7 1052.8C1208.0 1054.8 1209.3 1056.7 1210.6 1058.6C1211.9 1060.6 1213.2 1062.5 1214.5 1064.4C1215.8 1066.3 1217.1 1068.3 1218.5 1070.2C1219.8 1072.1 1221.2 1074.0 1222.6 1075.9C1223.9 1077.8 1225.3 1079.7 1226.8 1081.5C1228.2 1083.4 1229.6 1085.3 1231.1 1087.2C1232.6 1089.0 1234.1 1090.9 1235.6 1092.7C1237.1 1094.5 1238.7 1096.3 1240.3 1098.1C1241.8 1099.9 1243.4 1101.7 1245.1 1103.4C1246.7 1105.1 1248.4 1106.8 1250.1 1108.5C1251.8 1110.1 1253.5 1111.8 1255.2 1113.3C1257.0 1114.9 1258.8 1116.5 1260.6 1118.0C1262.4 1119.4 1264.2 1120.9 1266.1 1122.3C1268.0 1123.7 1269.9 1125.0 1271.8 1126.3C1273.8 1127.5 1275.8 1128.7 1277.8 1129.9C1279.8 1131.0 1281.8 1132.1 1283.9 1133.1C1285.9 1134.1 1288.0 1135.0 1290.2 1135.9C1292.3 1136.8 1294.5 1137.6 1296.6 1138.4C1298.8 1139.1 1301.0 1139.8 1303.3 1140.5C1305.5 1141.1 1307.7 1141.7 1310.0 1142.3C1312.3 1142.8 1314.5 1143.3 1316.8 1143.8C1319.1 1144.2 1321.4 1144.6 1323.8 1145.0C1326.1 1145.4 1328.4 1145.7 1330.8 1146.0C1333.1 1146.3 1335.4 1146.6 1337.8 1146.8C1340.1 1147.1 1342.5 1147.3 1344.8 1147.5C1347.2 1147.6 1349.5 1147.8 1351.9 1147.9C1354.3 1148.1 1356.6 1148.2 1359.0 1148.3C1361.3 1148.4 1363.7 1148.5 1366.0 1148.5C1368.4 1148.6 1370.7 1148.6 1373.1 1148.6C1375.5 1148.7 1377.8 1148.7 1380.2 1148.7C1382.5 1148.7 1384.9 1148.7 1387.2 1148.6C1389.6 1148.6 1391.9 1148.6 1394.3 1148.5C1396.6 1148.5 1399.0 1148.4 1401.4 1148.3C1403.7 1148.3 1406.1 1148.2 1408.4 1148.1C1410.8 1148.1 1413.1 1148.0 1415.5 1147.9C1417.8 1147.8 1420.2 1147.7 1422.5 1147.7C1424.9 1147.6 1427.2 1147.5 1429.6 1147.4C1431.9 1147.3 1434.3 1147.3 1436.6 1147.2C1439.0 1147.2 1441.3 1147.1 1443.7 1147.1C1446.0 1147.0 1448.4 1147.0 1450.7 1147.0C1453.0 1147.0 1455.4 1147.0 1457.7 1147.0C1460.1 1147.0 1462.4 1147.0 1464.7 1147.1C1467.1 1147.1 1469.4 1147.2 1471.8 1147.3C1474.1 1147.3 1476.4 1147.4 1478.8 1147.5C1481.1 1147.6 1483.4 1147.8 1485.8 1147.9C1488.1 1148.1 1490.4 1148.2 1492.8 1148.4C1495.1 1148.6 1497.4 1148.8 1499.7 1149.1C1502.1 1149.3 1504.4 1149.6 1506.7 1149.9C1509.0 1150.2 1511.3 1150.5 1513.7 1150.8C1516.0 1151.1 1518.3 1151.4 1520.6 1151.8C1522.9 1152.1 1525.2 1152.5 1527.6 1152.9C1529.9 1153.3 1532.2 1153.7 1534.5 1154.1C1536.8 1154.5 1539.1 1154.9 1541.4 1155.4C1543.7 1155.8 1546.0 1156.2 1548.4 1156.7C1550.7 1157.1 1553.0 1157.5 1555.3 1158.0C1557.6 1158.4 1559.9 1158.9 1562.2 1159.3C1564.5 1159.8 1566.8 1160.2 1569.2 1160.6C1571.5 1161.1 1573.8 1161.5 1576.1 1161.9C1578.4 1162.3 1580.7 1162.8 1583.0 1163.2C1585.4 1163.5 1587.7 1163.9 1590.0 1164.3C1592.3 1164.7 1594.6 1165.0 1597.0 1165.3C1599.3 1165.7 1601.6 1166.0 1603.9 1166.3C1606.2 1166.6 1608.6 1166.8 1610.9 1167.1C1613.2 1167.3 1615.6 1167.5 1617.9 1167.8C1620.2 1168.0 1622.6 1168.1 1624.9 1168.3C1627.2 1168.5 1629.6 1168.6 1631.9 1168.8C1634.2 1168.9 1636.6 1169.0 1638.9 1169.1C1641.3 1169.2 1643.6 1169.3 1645.9 1169.4C1648.3 1169.5 1650.6 1169.5 1653.0 1169.6C1655.3 1169.6 1657.7 1169.7 1660.0 1169.7C1662.4 1169.7 1664.7 1169.7 1667.1 1169.7C1669.4 1169.7 1671.8 1169.7 1674.1 1169.7C1676.4 1169.7 1678.8 1169.7 1681.2 1169.6C1683.5 1169.6 1685.9 1169.6 1688.2 1169.5C1690.6 1169.5 1692.9 1169.4 1695.3 1169.4C1697.6 1169.3 1700.0 1169.3 1702.3 1169.2C1704.7 1169.1 1707.0 1169.1 1709.4 1169.0C1711.7 1168.9 1714.1 1168.9 1716.4 1168.8C1718.8 1168.7 1721.1 1168.7 1723.5 1168.6C1725.9 1168.5 1728.2 1168.5 1730.6 1168.4C1732.9 1168.3 1735.3 1168.3 1737.6 1168.2C1740.0 1168.2 1742.3 1168.1 1744.7 1168.1C1747.0 1168.0 1749.4 1168.0 1751.7 1167.9C1754.1 1167.9 1756.4 1167.9 1758.8 1167.8C1761.1 1167.8 1763.5 1167.8 1765.8 1167.8C1768.2 1167.8 1770.5 1167.8 1772.9 1167.8C1775.2 1167.8 1777.5 1167.8 1779.9 1167.9C1782.2 1167.9 1784.6 1167.9 1786.9 1168.0C1789.3 1168.1 1791.6 1168.1 1793.9 1168.2C1796.3 1168.3 1798.6 1168.4 1800.9 1168.5C1803.3 1168.7 1806.8 1168.9 1807.9 1168.9"/>
<path id="cb" d="M321.0 257.5C322.1 258.0 325.3 259.5 327.3 260.6C329.4 261.6 331.4 262.8 333.4 264.0C335.4 265.1 337.3 266.3 339.2 267.6C341.1 268.9 343.0 270.3 344.8 271.6C346.7 273.0 348.5 274.5 350.2 275.9C352.0 277.4 353.7 278.9 355.4 280.4C357.1 282.0 358.7 283.5 360.4 285.2C362.0 286.8 363.6 288.5 365.1 290.2C366.7 292.0 368.2 293.7 369.8 295.5C371.3 297.3 372.8 299.1 374.2 301.0C375.7 302.8 377.1 304.7 378.5 306.6C380.0 308.4 381.4 310.4 382.7 312.3C384.1 314.2 385.5 316.1 386.8 318.1C388.1 320.1 389.4 322.0 390.8 324.0C392.1 326.0 393.3 328.0 394.6 330.0C395.9 332.1 397.2 334.1 398.4 336.1C399.7 338.1 400.9 340.2 402.1 342.2C403.4 344.2 404.6 346.3 405.8 348.3C407.1 350.3 408.3 352.4 409.6 354.4C410.8 356.4 412.1 358.3 413.4 360.3C414.7 362.3 416.0 364.3 417.4 366.2C418.7 368.1 420.1 370.0 421.5 371.9C423.0 373.7 424.4 375.5 426.0 377.3C427.5 379.0 429.1 380.7 430.7 382.3C432.4 384.0 434.1 385.5 435.9 387.0C437.7 388.5 439.5 389.9 441.4 391.3C443.2 392.7 445.2 394.0 447.1 395.3C449.1 396.6 451.1 397.8 453.1 399.1C455.1 400.3 457.2 401.5 459.3 402.6C461.3 403.7 463.4 404.8 465.5 405.9C467.6 407.0 469.7 408.0 471.8 409.1C474.0 410.1 476.1 411.1 478.2 412.1C480.4 413.1 482.5 414.1 484.7 415.1C486.8 416.1 488.9 417.1 491.1 418.1C493.2 419.1 495.4 420.1 497.5 421.0C499.7 422.0 501.8 423.0 504.0 424.0C506.1 425.0 508.2 426.0 510.3 427.0C512.5 428.0 514.6 429.0 516.7 430.0C518.8 431.0 520.9 432.1 522.9 433.1C525.0 434.2 527.0 435.3 529.1 436.4C531.1 437.5 533.1 438.7 535.1 439.8C537.1 441.0 539.1 442.2 541.0 443.5C543.0 444.7 544.9 446.1 546.8 447.4C548.7 448.7 550.6 450.1 552.4 451.5C554.3 452.9 556.1 454.3 558.0 455.8C559.8 457.2 561.6 458.7 563.4 460.2C565.2 461.7 567.0 463.2 568.8 464.7C570.5 466.3 572.3 467.8 574.0 469.4C575.8 470.9 577.5 472.5 579.3 474.1C581.0 475.7 582.7 477.3 584.5 478.9C586.2 480.5 587.9 482.1 589.6 483.7C591.4 485.3 593.1 487.0 594.8 488.6C596.5 490.2 598.2 491.8 600.0 493.5C601.7 495.1 603.4 496.7 605.1 498.3C606.9 499.9 608.6 501.5 610.3 503.2C612.0 504.8 613.8 506.4 615.5 508.0C617.3 509.6 619.0 511.3 620.7 512.9C622.5 514.5 624.2 516.1 626.0 517.7C627.7 519.3 629.5 520.9 631.2 522.5C633.0 524.1 634.7 525.8 636.5 527.4C638.2 529.0 640.0 530.6 641.7 532.3C643.5 533.9 645.2 535.5 647.0 537.1C648.8 538.7 650.5 540.3 652.3 541.9C654.1 543.5 655.8 545.1 657.6 546.7C659.4 548.4 661.1 550.0 662.9 551.6C664.7 553.1 666.4 554.7 668.2 556.3C670.0 557.9 671.8 559.5 673.5 561.1C675.3 562.7 677.1 564.3 678.9 565.9C680.6 567.5 682.4 569.1 684.2 570.6C686.0 572.2 687.8 573.8 689.6 575.4C691.3 577.0 693.1 578.5 694.9 580.1C696.7 581.7 698.5 583.4 700.3 585.0C702.1 586.6 703.8 588.3 705.6 589.9C707.4 591.6 709.2 593.2 711.0 594.9C712.8 596.5 714.6 598.2 716.4 599.8C718.2 601.4 720.0 603.1 721.8 604.7C723.6 606.3 725.4 608.0 727.2 609.6C729.0 611.2 730.8 612.9 732.6 614.5C734.4 616.1 736.2 617.8 738.0 619.4C739.8 621.0 741.6 622.6 743.4 624.2C745.3 625.7 747.1 627.3 748.9 628.9C750.7 630.4 752.5 632.0 754.3 633.5C756.1 635.1 758.0 636.7 759.8 638.2C761.6 639.8 763.4 641.3 765.3 642.9C767.1 644.4 768.9 646.0 770.7 647.6C772.6 649.1 774.4 650.7 776.2 652.1C778.1 653.6 779.9 655.0 781.7 656.4C783.6 657.7 785.4 659.1 787.2 660.5C789.1 661.9 790.9 663.3 792.8 664.7C794.6 666.1 796.5 667.5 798.3 668.9C800.2 670.3 802.0 671.6 803.9 673.0C805.8 674.3 807.6 675.6 809.5 677.0C811.4 678.3 813.3 679.6 815.1 680.9C817.0 682.2 818.9 683.5 820.8 684.8C822.7 686.1 824.6 687.4 826.5 688.6C828.5 689.9 830.4 691.1 832.3 692.4C834.2 693.6 836.2 694.9 838.1 696.1C840.1 697.3 842.0 698.5 844.0 699.7C846.0 700.9 847.9 702.0 849.9 703.2C851.9 704.3 853.9 705.5 855.9 706.7C858.0 707.8 860.0 708.9 862.0 710.0C864.0 711.1 866.1 712.2 868.2 713.3C870.2 714.4 872.3 715.4 874.4 716.4C876.5 717.5 878.6 718.5 880.7 719.4C882.8 720.4 884.9 721.4 887.1 722.3C889.2 723.2 891.3 724.2 893.5 725.1C895.6 726.0 897.8 726.9 900.0 727.8C902.1 728.7 904.3 729.5 906.5 730.4C908.6 731.3 910.8 732.2 913.0 733.0C915.2 733.9 917.3 734.8 919.5 735.7C921.7 736.6 923.9 737.5 926.0 738.4C928.2 739.3 930.4 740.2 932.5 741.2C934.7 742.1 936.8 743.1 938.9 744.1C941.1 745.0 943.2 746.1 945.3 747.1C947.5 748.2 949.6 749.2 951.7 750.3C953.8 751.4 955.9 752.5 958.0 753.6C960.0 754.7 962.1 755.8 964.2 756.9C966.3 758.1 968.3 759.2 970.4 760.4C972.4 761.5 974.4 762.7 976.5 763.9C978.5 765.1 980.5 766.3 982.5 767.5C984.5 768.7 986.5 770.0 988.5 771.2C990.5 772.5 992.4 773.8 994.4 775.1C996.4 776.4 998.3 777.7 1000.2 779.0C1002.2 780.3 1004.1 781.6 1006.0 782.9C1007.9 784.3 1009.8 785.6 1011.7 786.9C1013.6 788.3 1015.4 789.7 1017.3 791.1C1019.1 792.4 1021.0 793.8 1022.8 795.3C1024.6 796.7 1026.5 798.1 1028.3 799.5C1030.1 801.0 1031.9 802.4 1033.6 803.9C1035.4 805.4 1037.2 806.8 1038.9 808.4C1040.7 809.9 1042.4 811.5 1044.2 813.1C1045.9 814.7 1047.6 816.2 1049.3 817.8C1051.0 819.4 1052.7 821.1 1054.4 822.7C1056.1 824.3 1057.8 826.0 1059.4 827.6C1061.1 829.3 1062.7 830.9 1064.4 832.6C1066.0 834.3 1067.6 835.9 1069.2 837.6C1070.9 839.3 1072.5 841.1 1074.1 842.9C1075.7 844.6 1077.3 846.4 1078.8 848.2C1080.4 850.0 1082.0 851.8 1083.5 853.6C1085.1 855.4 1086.6 857.2 1088.2 859.0C1089.7 860.8 1091.2 862.7 1092.8 864.5C1094.3 866.3 1095.8 868.2 1097.3 870.0C1098.8 871.9 1100.3 873.7 1101.8 875.5C1103.2 877.3 1104.7 879.2 1106.2 881.0C1107.7 882.9 1109.1 884.7 1110.6 886.6C1112.0 888.5 1113.5 890.3 1114.9 892.2C1116.3 894.1 1117.7 896.0 1119.2 897.9C1120.6 899.7 1122.0 901.6 1123.4 903.5C1124.8 905.3 1126.2 907.2 1127.6 909.0C1129.0 910.9 1130.3 912.7 1131.7 914.6C1133.1 916.5 1134.5 918.3 1135.8 920.2C1137.2 922.1 1138.5 924.0 1139.9 925.9C1141.2 927.8 1142.6 929.7 1143.9 931.6C1145.2 933.5 1146.6 935.4 1147.9 937.3C1149.2 939.2 1150.5 941.1 1151.8 943.0C1153.1 944.9 1154.4 946.8 1155.7 948.7C1157.0 950.6 1158.3 952.6 1159.6 954.5C1160.9 956.4 1162.2 958.3 1163.5 960.3C1164.8 962.2 1166.0 964.1 1167.3 966.1C1168.6 968.0 1169.8 969.9 1171.1 971.9C1172.4 973.8 1173.6 975.8 1174.9 977.7C1176.1 979.7 1177.4 981.6 1178.6 983.6C1179.9 985.6 1181.1 987.6 1182.3 989.5C1183.6 991.5 1184.8 993.5 1186.0 995.5C1187.3 997.5 1188.5 999.5 1189.7 1001.5C1191.0 1003.4 1192.2 1005.4 1193.4 1007.4C1194.6 1009.4 1195.8 1011.4 1197.0 1013.4C1198.3 1015.4 1199.5 1017.4 1200.7 1019.3C1201.9 1021.3 1203.1 1023.3 1204.3 1025.3C1205.5 1027.3 1206.7 1029.3 1207.9 1031.3C1209.1 1033.2 1210.3 1035.2 1211.5 1037.2C1212.7 1039.2 1213.9 1041.2 1215.2 1043.1C1216.4 1045.1 1217.6 1047.1 1218.8 1049.0C1220.0 1051.0 1221.3 1053.0 1222.5 1054.9C1223.7 1056.9 1225.0 1058.8 1226.3 1060.7C1227.5 1062.7 1228.8 1064.6 1230.1 1066.5C1231.3 1068.5 1232.6 1070.4 1234.0 1072.3C1235.3 1074.2 1236.6 1076.1 1237.9 1078.0C1239.3 1079.9 1240.6 1081.7 1242.0 1083.6C1243.4 1085.5 1244.8 1087.4 1246.2 1089.2C1247.6 1091.1 1249.0 1093.0 1250.5 1094.8C1251.9 1096.6 1253.4 1098.5 1254.9 1100.3C1256.4 1102.1 1257.9 1103.9 1259.5 1105.7C1261.0 1107.5 1262.6 1109.3 1264.2 1111.0C1265.8 1112.7 1267.5 1114.5 1269.1 1116.1C1270.8 1117.8 1272.5 1119.4 1274.3 1121.0C1276.0 1122.5 1277.8 1124.1 1279.7 1125.5C1281.5 1126.9 1283.4 1128.3 1285.3 1129.5C1287.2 1130.8 1289.2 1132.0 1291.2 1133.1C1293.3 1134.2 1295.4 1135.2 1297.5 1136.1C1299.6 1137.0 1301.8 1137.8 1304.0 1138.6C1306.1 1139.4 1308.4 1140.0 1310.6 1140.7C1312.9 1141.3 1315.2 1141.9 1317.5 1142.4C1319.8 1142.9 1322.1 1143.3 1324.4 1143.7C1326.8 1144.1 1329.1 1144.5 1331.5 1144.8C1333.9 1145.1 1336.2 1145.4 1338.6 1145.6C1341.0 1145.8 1343.3 1146.1 1345.7 1146.2C1348.1 1146.4 1350.4 1146.6 1352.8 1146.7C1355.1 1146.9 1357.5 1147.0 1359.8 1147.1C1362.2 1147.2 1364.5 1147.2 1366.9 1147.3C1369.2 1147.3 1371.5 1147.4 1373.9 1147.4C1376.2 1147.4 1378.5 1147.4 1380.9 1147.4C1383.2 1147.4 1385.5 1147.3 1387.9 1147.3C1390.2 1147.2 1392.5 1147.1 1394.8 1147.1C1397.2 1147.0 1399.5 1146.9 1401.8 1146.8C1404.2 1146.7 1406.5 1146.7 1408.8 1146.6C1411.2 1146.5 1413.5 1146.4 1415.8 1146.3C1418.2 1146.2 1420.5 1146.1 1422.8 1146.0C1425.2 1145.9 1427.5 1145.7 1429.9 1145.6C1432.2 1145.5 1434.6 1145.4 1436.9 1145.3C1439.3 1145.2 1441.7 1145.1 1444.0 1145.0C1446.4 1144.9 1448.7 1144.8 1451.1 1144.7C1453.5 1144.6 1455.8 1144.6 1458.2 1144.5C1460.6 1144.4 1462.9 1144.2 1465.3 1144.1C1467.7 1144.0 1470.0 1143.9 1472.4 1143.8C1474.7 1143.7 1477.1 1143.6 1479.5 1143.6C1481.8 1143.5 1484.2 1143.5 1486.5 1143.5C1488.9 1143.5 1491.2 1143.5 1493.6 1143.5C1495.9 1143.6 1498.3 1143.7 1500.6 1143.8C1502.9 1143.9 1505.3 1144.0 1507.6 1144.2C1509.9 1144.4 1512.3 1144.6 1514.6 1144.9C1516.9 1145.1 1519.2 1145.4 1521.5 1145.7C1523.8 1146.1 1526.1 1146.4 1528.4 1146.8C1530.7 1147.1 1533.0 1147.5 1535.3 1147.9C1537.6 1148.3 1539.9 1148.7 1542.2 1149.2C1544.5 1149.6 1546.8 1150.1 1549.1 1150.6C1551.4 1151.1 1553.7 1151.6 1556.0 1152.1C1558.3 1152.6 1560.6 1153.1 1562.9 1153.6C1565.1 1154.1 1567.4 1154.6 1569.7 1155.1C1572.0 1155.6 1574.3 1156.1 1576.6 1156.5C1578.9 1157.0 1581.2 1157.5 1583.5 1158.0C1585.8 1158.4 1588.0 1158.9 1590.3 1159.3C1592.6 1159.8 1594.9 1160.2 1597.2 1160.6C1599.5 1161.0 1601.8 1161.4 1604.2 1161.8C1606.5 1162.1 1608.8 1162.4 1611.1 1162.8C1613.4 1163.1 1615.7 1163.4 1618.0 1163.6C1620.3 1163.9 1622.7 1164.2 1625.0 1164.4C1627.3 1164.6 1629.6 1164.8 1632.0 1165.0C1634.3 1165.2 1636.6 1165.4 1639.0 1165.6C1641.3 1165.7 1643.6 1165.9 1646.0 1166.0C1648.3 1166.2 1650.6 1166.3 1653.0 1166.4C1655.3 1166.5 1657.7 1166.6 1660.0 1166.7C1662.3 1166.7 1664.7 1166.8 1667.0 1166.9C1669.4 1166.9 1671.7 1167.0 1674.1 1167.0C1676.4 1167.0 1678.8 1167.1 1681.1 1167.1C1683.5 1167.1 1685.8 1167.1 1688.2 1167.1C1690.5 1167.1 1692.9 1167.1 1695.2 1167.1C1697.6 1167.1 1700.0 1167.1 1702.3 1167.1C1704.7 1167.1 1707.0 1167.1 1709.4 1167.0C1711.7 1167.0 1714.1 1167.0 1716.4 1167.0C1718.8 1166.9 1721.2 1166.9 1723.5 1166.9C1725.9 1166.9 1728.2 1166.8 1730.6 1166.8C1732.9 1166.8 1735.3 1166.8 1737.6 1166.8C1740.0 1166.7 1742.3 1166.7 1744.7 1166.7C1747.1 1166.7 1749.4 1166.7 1751.8 1166.7C1754.1 1166.7 1756.5 1166.7 1758.8 1166.7C1761.2 1166.7 1763.5 1166.8 1765.9 1166.8C1768.2 1166.8 1770.5 1166.9 1772.9 1166.9C1775.2 1167.0 1777.6 1167.0 1779.9 1167.1C1782.3 1167.2 1784.6 1167.2 1786.9 1167.3C1789.3 1167.4 1791.6 1167.5 1793.9 1167.7C1796.3 1167.8 1798.6 1167.9 1800.9 1168.1C1803.3 1168.2 1806.8 1168.5 1807.9 1168.6"/>
</defs>
<g fill="none" stroke="#000" stroke-linecap="round" stroke-linejoin="round"><use href="#ck" stroke-width="9.3"/><use href="#ck" stroke-width="5.4" transform="translate(1.8 -1.8)"/><use href="#ck" stroke-width="5.4" transform="translate(-1.8 1.8)"/></g>
<g fill="none" stroke="#f00" stroke-linecap="round" stroke-linejoin="round"><use href="#cr" stroke-width="9.3"/><use href="#cr" stroke-width="5.4" transform="translate(1.8 -1.8)"/><use href="#cr" stroke-width="5.4" transform="translate(-1.8 1.8)"/></g>
<g fill="none" stroke="#0f0" stroke-linecap="round" stroke-linejoin="round"><use href="#cg" stroke-width="9.3"/><use href="#cg" stroke-width="5.4" transform="translate(1.8 -1.8)"/><use href="#cg" stroke-width="5.4" transform="translate(-1.8 1.8)"/></g>
<g fill="none" stroke="#00f" stroke-linecap="round" stroke-linejoin="round"><use href="#cb" stroke-width="9.3"/><use href="#cb" stroke-width="5.4" transform="translate(1.8 -1.8)"/><use href="#cb" stroke-width="5.4" transform="translate(-1.8 1.8)"/></g>
<path d="M323.4 234.4V238.5" stroke="#f00" stroke-width="9" stroke-linecap="square" fill="none"/>
<g stroke="#000" fill="none" shape-rendering="crispEdges">
<path d="M308.5 59.3V1260" stroke-width="5"/>
<path d="M306.0 1257H1922" stroke-width="6"/>
<path d="M285 1167.7H308.5" stroke-width="5.5"/>
<path d="M285 946.6H308.5" stroke-width="5.5"/>
<path d="M285 725.5H308.5" stroke-width="5.5"/>
<path d="M285 504.3H308.5" stroke-width="5.5"/>
<path d="M285 283.2H308.5" stroke-width="5.5"/>
<path d="M285 62.1H308.5" stroke-width="5.5"/>
<path d="M297 1057.1H308.5" stroke-width="5.5"/>
<path d="M297 836.0H308.5" stroke-width="5.5"/>
<path d="M297 614.9H308.5" stroke-width="5.5"/>
<path d="M297 393.8H308.5" stroke-width="5.5"/>
<path d="M297 172.7H308.5" stroke-width="5.5"/>
<path d="M473.5 1257V1281" stroke-width="5.5"/>
<path d="M886.6 1257V1281" stroke-width="5.5"/>
<path d="M1299.7 1257V1281" stroke-width="5.5"/>
<path d="M1712.8 1257V1281" stroke-width="5.5"/>
<path d="M680.0 1257V1269" stroke-width="5.5"/>
<path d="M1093.2 1257V1269" stroke-width="5.5"/>
<path d="M1506.2 1257V1269" stroke-width="5.5"/>
<path d="M1919.2 1257V1269" stroke-width="5.5"/>
<path d="M308.5 577H1527" stroke-width="5.8" stroke-dasharray="6.1 3.8" stroke-dashoffset="3.66"/>
<path d="M874 148.6V1254" stroke-width="6" stroke-dasharray="8.2 19.3"/>
<path d="M308.44 1168.45H1922" stroke-width="5" stroke-dasharray="12.85 8.03"/>
</g>
<path d="M1253.7 126.5H1392.6" stroke="#000" stroke-width="9" stroke-linecap="round" fill="none"/>
<text transform="translate(1403.3 148.0) scale(.988 1.03)" font-size="62.3">MOF<tspan class="b">0</tspan></text>
<path d="M1253.7 203.5H1392.6" stroke="#f00" stroke-width="9" stroke-linecap="round" fill="none"/>
<text transform="translate(1402.3 224.7) scale(.988 1.03)" font-size="62.3">MOF<tspan class="b">1</tspan></text>
<path d="M1253.7 280.5H1392.6" stroke="#0f0" stroke-width="9" stroke-linecap="round" fill="none"/>
<text transform="translate(1402.3 301.9) scale(.988 1.03)" font-size="62.3">MOF<tspan class="b">3</tspan></text>
<path d="M1253.7 357.5H1392.6" stroke="#00f" stroke-width="9" stroke-linecap="round" fill="none"/>
<text transform="translate(1402.3 380.2) scale(.988 1.03)" font-size="62.3">MOF<tspan class="b">5</tspan></text>
<text class="b" transform="translate(269.3 1189.7) scale(1 1.02)" font-size="73.5" text-anchor="end">100</text>
<text class="b" transform="translate(269.3 968.6) scale(1 1.02)" font-size="73.5" text-anchor="end">150</text>
<text class="b" transform="translate(269.3 747.5) scale(1 1.02)" font-size="73.5" text-anchor="end">200</text>
<text class="b" transform="translate(269.3 526.3) scale(1 1.02)" font-size="73.5" text-anchor="end">250</text>
<text class="b" transform="translate(269.3 305.2) scale(1 1.02)" font-size="73.5" text-anchor="end">300</text>
<text class="b" transform="translate(269.3 84.1) scale(1 1.02)" font-size="73.5" text-anchor="end">350</text>
<text class="b" transform="translate(473.5 1354.8) scale(1 1.02)" font-size="73.5" text-anchor="middle">100</text>
<text class="b" transform="translate(886.6 1354.8) scale(1 1.02)" font-size="73.5" text-anchor="middle">300</text>
<text class="b" transform="translate(1299.7 1354.8) scale(1 1.02)" font-size="73.5" text-anchor="middle">500</text>
<text class="b" transform="translate(1712.8 1354.8) scale(1 1.02)" font-size="73.5" text-anchor="middle">700</text>
<text class="b" x="770.8" y="1467" font-size="90.4"><tspan letter-spacing="0.6">Temperature</tspan> (<tspan dx="-2.5" dy="11.5" font-size="107">°</tspan><tspan dx="-9" dy="-11.5">C</tspan><tspan dx="-1">)</tspan></text>
<text class="b" transform="translate(93.5 883.5) rotate(-90)" font-size="90.6"><tspan letter-spacing="0.6">Weight</tspan> (<tspan dx="-1">%</tspan><tspan dx="-2.5">)</tspan></text>
<text class="b" x="889.7" y="541.8" font-size="62">Zr<tspan font-size="40" dy="16.5">6</tspan><tspan dy="-16.5">O</tspan><tspan font-size="40" dy="16.5">6</tspan><tspan dy="-16.5" dx="3">(BDC-NH</tspan><tspan font-size="40" dy="16.5">2</tspan><tspan dy="-16.5">)</tspan><tspan font-size="40" dy="16.5">6</tspan><tspan dy="-16.5" dx="-2.5" letter-spacing="-0.2"> , 232.49% 6ZrO</tspan><tspan font-size="40" dy="16.5">2</tspan></text>
<text transform="translate(1741.5 1120.6) scale(.988 1.03)" font-size="62.3">6ZrO<tspan font-size="40" dy="17">2</tspan></text>
</svg></body></html>
